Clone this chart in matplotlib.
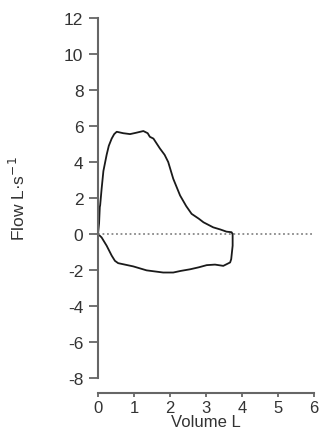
import numpy as np
import matplotlib
matplotlib.use("Agg")
import matplotlib.pyplot as plt

# flow-volume loop
# expiratory limb (top)
exp_vol = [0.00, 0.03, 0.05, 0.06, 0.10, 0.15, 0.24, 0.30, 0.38, 0.45, 0.52, 0.70, 0.89,
           1.05, 1.26, 1.38, 1.44, 1.54, 1.72, 1.85, 1.95, 2.09, 2.28, 2.45, 2.60,
           2.80, 2.93, 3.20, 3.40, 3.57, 3.71, 3.74]
exp_flow = [0.00, 0.60, 1.50, 1.60, 2.50, 3.50, 4.40, 4.90, 5.30, 5.55, 5.68, 5.60, 5.55,
            5.62, 5.72, 5.60, 5.40, 5.30, 4.75, 4.40, 4.00, 3.07, 2.14, 1.55, 1.12,
            0.85, 0.65, 0.37, 0.25, 0.13, 0.10, 0.00]
# inspiratory limb (bottom), going back from end volume to 0
insp_vol = [3.74, 3.74, 3.70, 3.67, 3.48, 3.25, 3.02, 2.80, 2.56, 2.30, 2.09, 1.81, 1.35,
            0.98, 0.56, 0.47, 0.38, 0.24, 0.10, 0.00]
insp_flow = [0.00, -0.65, -1.40, -1.58, -1.77, -1.70, -1.73, -1.85, -1.96, -2.05, -2.14,
             -2.14, -2.02, -1.80, -1.62, -1.49, -1.20, -0.65, -0.19, 0.00]

xticks = [0, 1, 2, 3, 4, 5, 6]
yticks = [-8, -6, -4, -2, 0, 2, 4, 6, 8, 10, 12]

plt.rcParams['font.family'] = ['Liberation Sans', 'DejaVu Sans']
plt.rcParams['axes.unicode_minus'] = False

fig = plt.figure(figsize=(3.22, 4.31), dpi=100)
ax = fig.add_axes([98/322, 1 - 379/431, 216/322, 360/431])

ax.plot(exp_vol, exp_flow, color='#1a1a1a', lw=1.3)
ax.plot(insp_vol, insp_flow, color='#1a1a1a', lw=1.3)
ax.plot([0, 6], [0, 0], color='#888888', lw=1.3, ls=(0, (1, 1.5)))

ax.set_xlim(0, 6)
ax.set_ylim(-8, 12)
ax.set_xticks(xticks)
ax.set_yticks(yticks)

for s in ['top', 'right']:
    ax.spines[s].set_visible(False)
ax.spines['bottom'].set_position(('outward', 11))
for s in ['left', 'bottom']:
    ax.spines[s].set_color('#666666')
    ax.spines[s].set_linewidth(1.5)

ax.tick_params(axis='y', length=6.5, width=1.3, color='#666666', pad=4,
               labelsize=12.5, labelcolor='#333333')
ax.tick_params(axis='x', length=3, width=1.3, color='#666666', pad=1.5,
               labelsize=12, labelcolor='#333333')

ax.set_ylabel('Flow L·s$^{-1}$', fontsize=12.5, color='#333333', labelpad=26)
ax.set_xlabel('Volume L', fontsize=12, color='#333333')
ax.xaxis.set_label_coords(0.5, -0.1)

fig.savefig('out.png', dpi=100)
